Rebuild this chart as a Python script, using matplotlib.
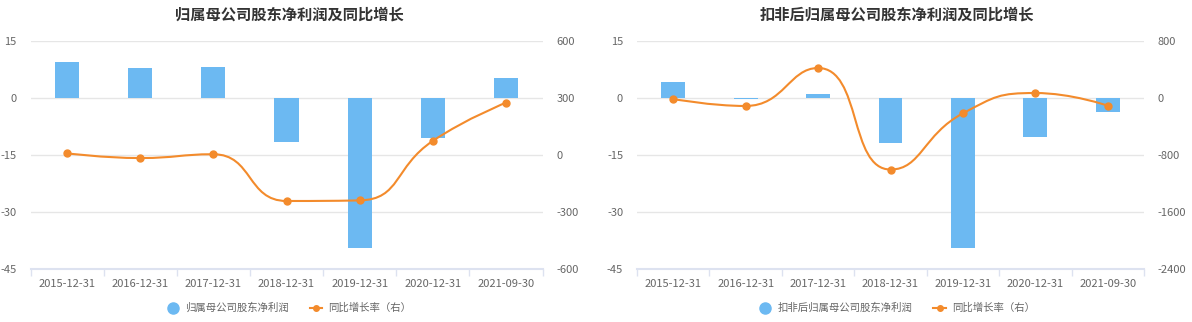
import numpy as np
import matplotlib.pyplot as plt
from matplotlib.path import Path
from matplotlib.patches import PathPatch
from matplotlib.lines import Line2D

plt.rcParams['font.family'] = ['Noto Sans CJK SC', 'DejaVu Sans']
plt.rcParams['axes.unicode_minus'] = False

dates = ['2015-12-31', '2016-12-31', '2017-12-31', '2018-12-31',
         '2019-12-31', '2020-12-31', '2021-09-30']

# left chart
profit = [9.4, 7.8, 8.1, -11.7, -39.6, -10.5, 5.3]
profit_yoy = [9, -16, 4, -242, -239, 74, 275]

# right chart
profit_deduct = [4.3, -0.3, 1.1, -11.9, -39.6, -10.2, -3.6]
deduct_yoy = [-14, -112, 421, -1004, -215, 70, -108]

BLUE = '#6cb9f2'
ORANGE = '#f38b2c'
GRID = '#e6e6e6'
AXIS = '#dde2f0'
TXT = '#666666'


def echarts_smooth(ax, xs, ys, smooth=0.5):
    # bezier path like echarts smooth line, built in display space
    pts = ax.transData.transform(np.column_stack([xs, ys]))
    verts = [tuple(pts[0])]
    codes = [Path.MOVETO]
    cp0 = pts[0].copy()
    n = len(pts)
    for i in range(1, n):
        x, y = pts[i]
        px, py = pts[i - 1]
        if i == n - 1:
            cp1 = np.array([x, y])
            nxt = None
        else:
            nx, ny = pts[i + 1]
            vx, vy = nx - px, ny - py
            lp = np.hypot(x - px, y - py)
            ln = np.hypot(nx - x, ny - y)
            r = ln / (ln + lp)
            ncx = x + vx * smooth * r
            ncy = y + vy * smooth * r
            ncx = max(min(ncx, max(nx, x)), min(nx, x))
            ncy = max(min(ncy, max(ny, y)), min(ny, y))
            vx, vy = ncx - x, ncy - y
            c1x = x - vx * lp / ln
            c1y = y - vy * lp / ln
            c1x = max(min(c1x, max(px, x)), min(px, x))
            c1y = max(min(c1y, max(py, y)), min(py, y))
            vx, vy = x - c1x, y - c1y
            nxt = np.array([x + vx * ln / lp, y + vy * ln / lp])
            cp1 = np.array([c1x, c1y])
        verts += [tuple(cp0), tuple(cp1), (x, y)]
        codes += [Path.CURVE4] * 3
        cp0 = nxt
    inv = ax.transData.inverted()
    verts = inv.transform(np.array(verts))
    patch = PathPatch(Path(verts, codes), facecolor='none', edgecolor=ORANGE,
                      lw=1.5, zorder=3)
    ax.add_patch(patch)


fig = plt.figure(figsize=(11.92, 3.22), dpi=100)


def draw(left, width, title, bars, yoy, ylim2, yticks2, bar_name, title_x):
    ax = fig.add_axes([left, 1 - 269 / 322, width, 228 / 322])
    x = np.arange(len(dates))
    ax.bar(x, bars, width=0.33, color=BLUE, zorder=2)
    ax.set_xlim(-0.5, len(dates) - 0.5)
    ax.set_ylim(-45, 15)
    ax.set_yticks([-45, -30, -15, 0, 15])
    ax.set_xticks(x)
    ax.set_xticklabels(dates)
    ax.set_xticks(np.arange(-0.5, len(dates)), minor=True)
    ax.tick_params(axis='x', which='major', length=0, pad=7, labelsize=8, labelcolor=TXT)
    ax.tick_params(axis='x', which='minor', length=5, color=AXIS, width=1)
    ax.tick_params(axis='y', length=0, pad=10, labelsize=8, labelcolor=TXT)
    ax.grid(axis='y', color=GRID, lw=1, zorder=0)
    for s in ['top', 'left', 'right']:
        ax.spines[s].set_visible(False)
    ax.spines['bottom'].set_color(AXIS)
    ax.spines['bottom'].set_linewidth(1.5)

    ax2 = ax.twinx()
    ax2.set_ylim(*ylim2)
    ax2.set_yticks(yticks2)
    ax2.tick_params(axis='y', length=0, pad=10, labelsize=8, labelcolor=TXT)
    for s in ax2.spines.values():
        s.set_visible(False)
    echarts_smooth(ax2, x, yoy)
    ax2.plot(x, yoy, 'o', color=ORANGE, ms=5, zorder=4)

    fig.text(title_x, 1 - 15 / 322, title, ha='center', va='center',
             fontsize=11, fontweight='bold', color='#333333')

    handles = [Line2D([], [], marker='o', ls='none', color=BLUE, ms=8),
               Line2D([], [], marker='o', color=ORANGE, ms=4, lw=1.5)]
    fig.legend(handles, [bar_name, '同比增长率（右）'], loc='center',
               bbox_to_anchor=(title_x, 1 - 308 / 322), ncol=2, frameon=False,
               fontsize=7.5, labelcolor=TXT, handlelength=1.2, columnspacing=2,
               handletextpad=0.6)


draw(30.5 / 1192, 512 / 1192, '归属母公司股东净利润及同比增长', profit, profit_yoy,
     (-600, 600), [-600, -300, 0, 300, 600], '归属母公司股东净利润', 289 / 1192)
draw(637 / 1192, 507 / 1192, '扣非后归属母公司股东净利润及同比增长', profit_deduct, deduct_yoy,
     (-2400, 800), [-2400, -1600, -800, 0, 800], '扣非后归属母公司股东净利润', 897 / 1192)

fig.savefig('out.png', dpi=100)
